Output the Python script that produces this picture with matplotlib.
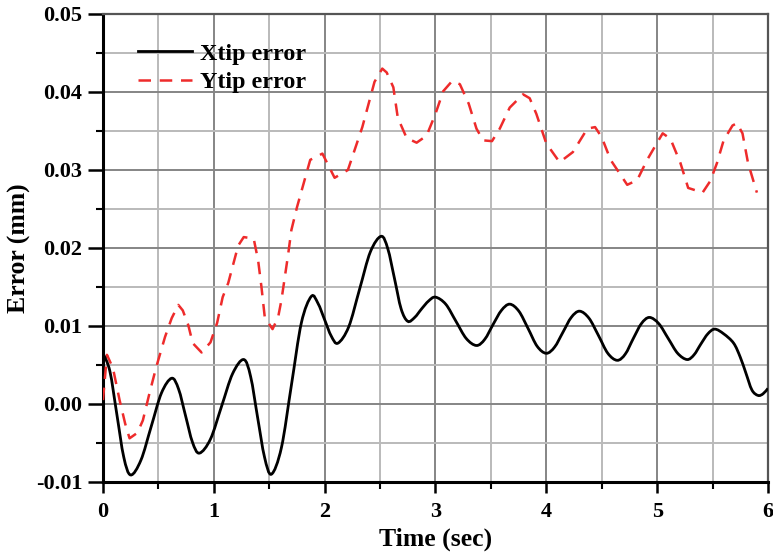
import matplotlib
matplotlib.use('Agg')
import matplotlib.pyplot as plt
from matplotlib.patches import PathPatch
from matplotlib.path import Path
from matplotlib.ticker import MultipleLocator

plt.rcParams['font.family'] = ['Liberation Serif', 'DejaVu Serif']
plt.rcParams['font.weight'] = 'bold'

# Xtip error (extrema and points between them)
x_time = [
	0.0, 0.0625, 0.125, 0.1875, 0.25, 0.3425, 0.435, 0.5275, 0.62,
	0.6825, 0.745, 0.8075, 0.87, 0.97, 1.07, 1.17, 1.27,
	1.3325, 1.395, 1.4575, 1.52, 1.61, 1.70, 1.79, 1.88,
	1.94, 2.00, 2.06, 2.12, 2.2175, 2.315, 2.4125, 2.51,
	2.57, 2.63, 2.69, 2.75, 2.8125, 2.875, 2.9375, 3.00,
	3.0925, 3.185, 3.2775, 3.37, 3.445, 3.52, 3.595, 3.67,
	3.7525, 3.835, 3.9175, 4.00, 4.075, 4.15, 4.225, 4.30,
	4.385, 4.47, 4.555, 4.64, 4.7125, 4.785, 4.8575, 4.93,
	5.015, 5.10, 5.185, 5.27, 5.3325, 5.395, 5.4575, 5.52,
	5.60, 5.69, 5.75, 5.80, 5.855, 5.91, 5.955, 6.00,
]
x_err = [
	0.0065, 0.0042, -0.0013, -0.0068, -0.0091, -0.0072, -0.0029, 0.0014, 0.0033,
	0.0019, -0.0015, -0.0049, -0.0063, -0.0045, -0.0003, 0.0039, 0.0057,
	0.0035, -0.0017, -0.0068, -0.0090, -0.0056, 0.0024, 0.0104, 0.0138,
	0.0129, 0.0108, 0.0087, 0.0078, 0.0099, 0.0147, 0.0195, 0.0215,
	0.0199, 0.0161, 0.0122, 0.0106, 0.0111, 0.0122, 0.0132, 0.0137,
	0.0128, 0.0106, 0.0084, 0.0075, 0.0083, 0.0102, 0.0120, 0.0128,
	0.0119, 0.0097, 0.0074, 0.0065, 0.0073, 0.0092, 0.0111, 0.0119,
	0.0110, 0.0088, 0.0065, 0.0056, 0.0064, 0.0084, 0.0103, 0.0111,
	0.0103, 0.0084, 0.0065, 0.0057, 0.0063, 0.0077, 0.0090, 0.0096,
	0.0090, 0.0078, 0.0060, 0.0040, 0.0018, 0.0011, 0.0013, 0.0020,
]

# Ytip error
y_time = [
	0.0, 0.036, 0.09, 0.15, 0.20, 0.24, 0.31, 0.36, 0.42, 0.48, 0.56,
	0.62, 0.68, 0.72, 0.77, 0.81, 0.89, 0.97, 1.03, 1.08, 1.13, 1.22,
	1.27, 1.36, 1.40, 1.43, 1.46, 1.53, 1.58, 1.61, 1.64, 1.67, 1.70,
	1.75, 1.87, 1.98, 2.09, 2.21, 2.34, 2.45, 2.52, 2.56, 2.62, 2.66,
	2.74, 2.83, 2.92, 3.00, 3.07, 3.15, 3.22, 3.30, 3.37, 3.43, 3.51,
	3.58, 3.67, 3.79, 3.85, 3.91, 4.00, 4.12, 4.24, 4.37, 4.44, 4.50,
	4.58, 4.73, 4.82, 4.91, 5.00, 5.05, 5.12, 5.21, 5.28, 5.41, 5.48,
	5.54, 5.60, 5.68, 5.72, 5.77, 5.82, 5.90,
]
y_err = [
	0.0005, 0.0063, 0.0046, 0.0005, -0.0025, -0.0044, -0.0037, -0.0021, 0.0014, 0.0047, 0.0086,
	0.0110, 0.0127, 0.0120, 0.0101, 0.0078, 0.0066, 0.0079, 0.0104, 0.0137, 0.0155, 0.0203,
	0.0214, 0.0212, 0.0184, 0.0150, 0.0111, 0.0096, 0.0111, 0.0133, 0.0162, 0.0191, 0.0223,
	0.0252, 0.0313, 0.0321, 0.0290, 0.0300, 0.0355, 0.0413, 0.0430, 0.0425, 0.0406, 0.0367,
	0.0341, 0.0335, 0.0344, 0.0372, 0.0401, 0.0414, 0.0410, 0.0385, 0.0353, 0.0338, 0.0337,
	0.0353, 0.0380, 0.0397, 0.0392, 0.0372, 0.0334, 0.0310, 0.0323, 0.0353, 0.0355, 0.0342,
	0.0313, 0.0281, 0.0287, 0.0313, 0.0335, 0.0347, 0.0340, 0.0309, 0.0277, 0.0271, 0.0286,
	0.0309, 0.0338, 0.0357, 0.0360, 0.0347, 0.0309, 0.0271,
]


def smooth_path(xs, ys):
	# Catmull-Rom style bezier through the points, so the solid line is drawn smooth
	pts = list(zip(xs, ys))
	verts = [pts[0]]
	codes = [Path.MOVETO]
	n = len(pts)
	for i in range(n - 1):
		p0 = pts[max(i - 1, 0)]
		p1 = pts[i]
		p2 = pts[i + 1]
		p3 = pts[min(i + 2, n - 1)]
		c1 = (p1[0] + (p2[0] - p0[0]) / 6, p1[1] + (p2[1] - p0[1]) / 6)
		c2 = (p2[0] - (p3[0] - p1[0]) / 6, p2[1] - (p3[1] - p1[1]) / 6)
		verts += [c1, c2, p2]
		codes += [Path.CURVE4] * 3
	return Path(verts, codes)


fig = plt.figure(figsize=(7.73, 5.53), dpi=100)
ax = fig.add_axes([0.1332, 0.1284, 0.8603, 0.8463])

ax.add_patch(PathPatch(smooth_path(x_time, x_err), facecolor='none',
	edgecolor='black', linewidth=2.0, zorder=4))
ax.plot([], [], color='black', linewidth=2.0, label='Xtip error')
ax.plot(y_time, y_err, color='#ee2b2b', linewidth=1.8, dashes=(5, 3.5),
	label='Ytip error', zorder=3)

ax.set_xlim(0, 6)
ax.set_ylim(-0.01, 0.05)
ax.xaxis.set_major_locator(MultipleLocator(1))
ax.xaxis.set_minor_locator(MultipleLocator(0.5))
ax.yaxis.set_major_locator(MultipleLocator(0.01))
ax.yaxis.set_minor_locator(MultipleLocator(0.005))
ax.yaxis.set_major_formatter(plt.FormatStrFormatter('%.2f'))

ax.grid(True, which='major', color='#858585', linewidth=1.4)
ax.grid(True, which='minor', color='#bababa', linewidth=1.4)
ax.set_axisbelow(True)

ax.tick_params(which='major', direction='out', width=1.8,
	labelsize=16, top=False, right=False)
ax.tick_params(axis='x', which='major', length=8, pad=6.5)
ax.tick_params(axis='y', which='major', length=11, pad=4)
ax.tick_params(which='minor', direction='out', length=5, width=1.5,
	top=False, right=False)

for side in ('left', 'bottom'):
	ax.spines[side].set_linewidth(2.2)
	ax.spines[side].set_color('black')
for side in ('top', 'right'):
	ax.spines[side].set_linewidth(1.6)
	ax.spines[side].set_color('#555555')

ax.set_xlabel('Time (sec)', fontsize=18.5, fontweight='bold', labelpad=4)
ax.set_ylabel('Error (mm)', fontsize=18.5, fontweight='bold', labelpad=3)

ax.legend(loc='upper left', bbox_to_anchor=(0.0526, 0.938), frameon=False,
	borderaxespad=0, borderpad=0, fontsize=17.3, handlelength=2.25,
	handletextpad=0.35, labelspacing=0.27)

fig.savefig('out.png', dpi=100)
